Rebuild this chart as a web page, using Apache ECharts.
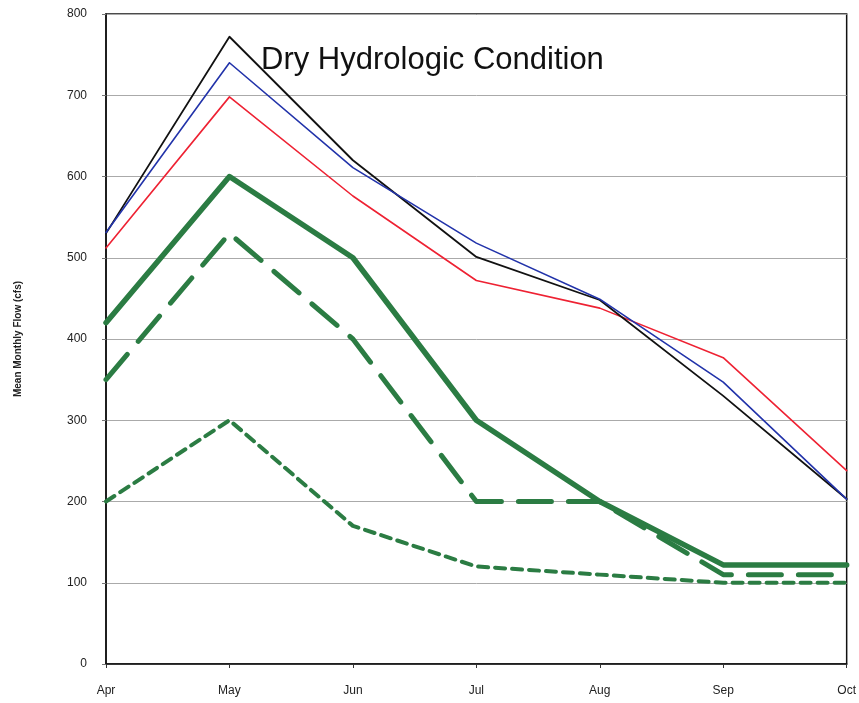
<!DOCTYPE html>
<html>
<head>
<meta charset="utf-8">
<script src="https://cdn.jsdelivr.net/npm/echarts@6/dist/echarts.min.js"></script>
<style>html,body{margin:0;padding:0;background:#fff}#c{width:859px;height:703px}</style>
</head>
<body>
<div id="c"></div>
<script>
const months = ['Apr','May','Jun','Jul','Aug','Sep','Oct'];
const blackSeries = [530, 772, 620, 501, 448, 330, 203];
const blueSeries  = [531, 740, 611, 518, 449, 347, 203];
const redSeries   = [512, 698, 576, 472, 438, 377, 238];
const greenSolid  = [420, 600, 500, 300, 200, 122, 122];
const greenLongDash = [350, 530, 400, 200, 200, 110, 110];
const greenShortDash = [200, 300, 170, 120, 110, 100, 100];
const yTicks = [0, 100, 200, 300, 400, 500, 600, 700, 800];

const green = '#2b7c43';
const font = '"Liberation Sans", Arial, sans-serif';
function line(name, data, color, width, type) {
  return {
    name, type: 'line', data, symbol: 'none', smooth: false,
    lineStyle: {color, width, type: type || 'solid', cap: 'round', join: 'round'},
    itemStyle: {color}
  };
}
const chart = echarts.init(document.getElementById('c'), null, {renderer: 'canvas'});
chart.setOption({
  animation: false,
  backgroundColor: '#fff',
  grid: {left: 106, right: 12, top: 14, bottom: 39, show: true, borderColor: '#111', borderWidth: 1.5},
  title: {
    text: 'Dry Hydrologic Condition', left: 256, top: 40,
    textStyle: {fontFamily: font, fontSize: 31, fontWeight: 'normal', color: '#111'}
  },
  xAxis: {
    type: 'category', data: months, boundaryGap: false,
    axisLine: {lineStyle: {color: '#111', width: 1.5}},
    axisTick: {show: true, length: 4, inside: false, lineStyle: {color: '#333'}},
    axisLabel: {margin: 21, fontFamily: font, fontSize: 12, color: '#222'},
    splitLine: {show: false}
  },
  yAxis: {
    type: 'value', min: yTicks[0], max: yTicks[yTicks.length - 1], interval: 100,
    name: 'Mean Monthly Flow (cfs)', nameLocation: 'middle', nameGap: 83, nameRotate: 90,
    nameTextStyle: {fontFamily: font, fontSize: 10, fontWeight: 'bold', color: '#222'},
    axisLine: {show: true, lineStyle: {color: '#111', width: 1.5}},
    axisTick: {show: true, length: 4, lineStyle: {color: '#777'}},
    axisLabel: {margin: 19, fontFamily: font, fontSize: 12, color: '#222'},
    splitLine: {show: true, lineStyle: {color: '#aaa', width: 1}}
  },
  series: [
    line('Short dash', greenShortDash, green, 4, [10, 7]),
    line('Long dash', greenLongDash, green, 5, [33, 17]),
    line('Solid green', greenSolid, green, 5.5),
    line('Red', redSeries, '#ee2233', 1.6),
    line('Black', blackSeries, '#111111', 1.8),
    line('Blue', blueSeries, '#2233aa', 1.6)
  ]
});
</script>
</body>
</html>
